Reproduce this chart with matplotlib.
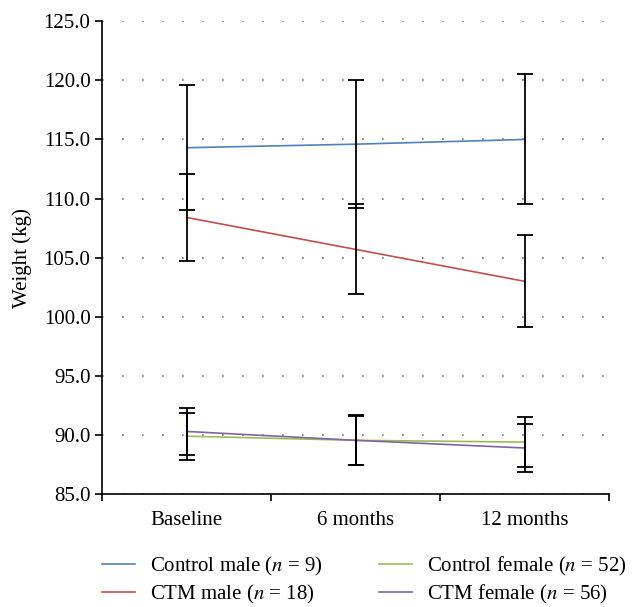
import numpy as np
import matplotlib
matplotlib.use("Agg")
import matplotlib.pyplot as plt

plt.rcParams['font.family'] = ['Liberation Serif', 'DejaVu Serif']
plt.rcParams['mathtext.fontset'] = 'stix'

# data
timepoints = ['Baseline', '6 months', '12 months']
series_names = ['Control male ($n$ = 9)', 'CTM male ($n$ = 18)',
                'Control female ($n$ = 52)', 'CTM female ($n$ = 56)']
control_male = [114.3, 114.6, 115.0]
control_male_sd = [5.3, 5.4, 5.5]
ctm_male = [108.4, 105.7, 103.0]
ctm_male_sd = [3.7, 3.8, 3.9]
control_female = [89.9, 89.55, 89.4]
control_female_sd = [2.0, 2.05, 2.1]
ctm_female = [90.3, 89.55, 88.9]
ctm_female_sd = [2.0, 2.1, 2.0]

colors = ['#4F81BD', '#C0504D', '#9BBB59', '#8064A2']

fig = plt.figure(figsize=(6.39, 6.07), dpi=100)
ax = fig.add_axes([0.16, 0.186, 0.793, 0.779])

x = np.arange(len(timepoints))
means = [control_male, ctm_male, control_female, ctm_female]
sds = [control_male_sd, ctm_male_sd, control_female_sd, ctm_female_sd]

for m, s, c, name in zip(means, sds, colors, series_names):
    ax.plot(x, m, color=c, lw=1.2, label=name, zorder=3)
    ax.errorbar(x, m, yerr=s, fmt='none', ecolor='black', elinewidth=1.3,
                capsize=6, capthick=1.3, zorder=4)

ax.set_xlim(-0.5, 2.5)
ax.set_ylim(85, 125)
ax.set_yticks(np.arange(85, 126, 5))
ax.set_yticklabels([f'{v:.1f}' for v in np.arange(85, 126, 5)])
ax.set_xticks(x)
ax.set_xticklabels(timepoints)
ax.set_xticks([-0.5, 0.5, 1.5, 2.5], minor=True)
ax.tick_params(axis='x', which='major', length=0, pad=12, labelsize=15)
ax.tick_params(axis='x', which='minor', length=5, width=1.2, direction='out')
ax.tick_params(axis='y', length=5, width=1.2, direction='out', labelsize=15)

ax.grid(axis='y', color='#777777', linestyle=(0, (1, 11)), lw=1.2)
ax.set_axisbelow(True)
for side in ['top', 'right']:
    ax.spines[side].set_visible(False)
for side in ['left', 'bottom']:
    ax.spines[side].set_linewidth(1.2)

ax.set_ylabel('Weight (kg)', fontsize=15, labelpad=8)

handles, labels = ax.get_legend_handles_labels()
fig.legend(handles, labels, loc='center', bbox_to_anchor=(0.57, 0.044), ncol=2,
           frameon=False, fontsize=15, handlelength=1.6, handletextpad=0.7,
           columnspacing=2.7, labelspacing=0.25, borderaxespad=0)

fig.savefig('out.png', dpi=100)
